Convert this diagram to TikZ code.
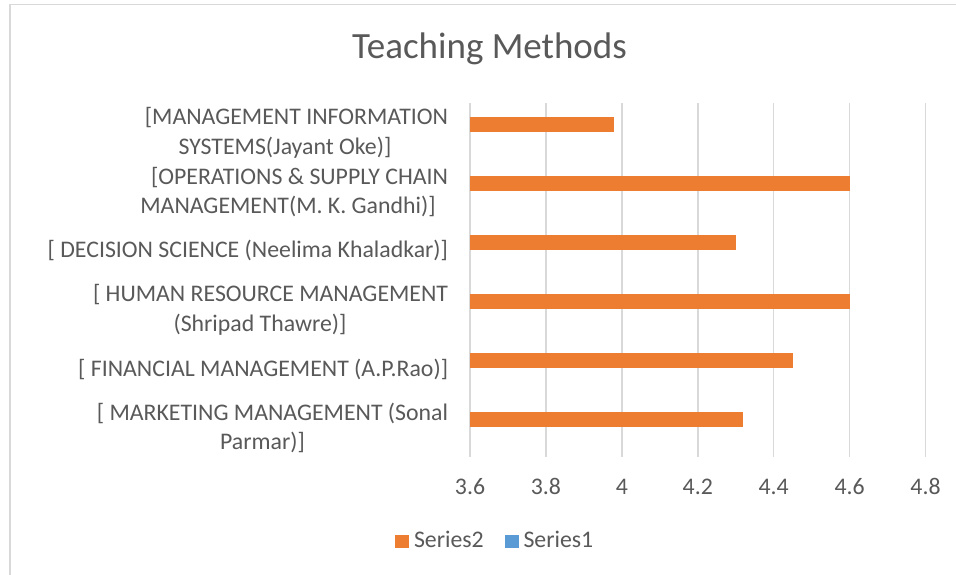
\documentclass[tikz,border=0pt]{standalone}
\usepackage{fontspec}
\setmainfont{Carlito}
\definecolor{txtgray}{HTML}{595959}
\definecolor{gridgray}{HTML}{D9D9D9}
\definecolor{barorange}{HTML}{ED7D31}
\definecolor{barblue}{HTML}{5B9BD5}
\tikzset{
  lbl/.style={inner sep=0pt, outer sep=0pt, text=txtgray, font=\fontsize{23.8}{28}\selectfont},
  ttl/.style={inner sep=0pt, outer sep=0pt, text=txtgray, font=\fontsize{37}{44}\selectfont},
  gridln/.style={draw=gridgray, line width=1.5pt},
  bar/.style={fill=barorange, draw=none},
}
\begin{document}
\begin{tikzpicture}[x=1pt,y=-1pt]
\useasboundingbox (0,0) rectangle (956,575);
\fill[white] (0,0) rectangle (956,575);
% chart border (cropped at right and bottom)
\draw[gridgray, line width=1.8pt] (10,575) -- (10,4.5) -- (956,4.5);
% title
\node[ttl, anchor=base] (title) at (489.5,59) {Teaching Methods};
% gridlines
\foreach \v/\n in {3.8/g1,4.0/g2,4.2/g3,4.4/g4,4.6/g5,4.8/g6}{
  \coordinate (\n t) at ({470+(\v-3.6)*379.6},103);
  \coordinate (\n b) at ({470+(\v-3.6)*379.6},457);
  \draw[gridln] (\n t) -- (\n b);
}
\coordinate (axt) at (470,103);
\coordinate (axb) at (470,457);
\draw[gridln] (axt) -- (axb);
% bars
\foreach \v/\c/\n in {3.98/124.5/b1,4.6/183.5/b2,4.3/242.5/b3,4.6/301.5/b4,4.45/360.5/b5,4.32/419.5/b6}{
  \path[bar] (470,\c-7.5) rectangle ({470+(\v-3.6)*379.6},\c+7.5);
}
% category labels
\node[lbl, anchor=base east] (l1a) at (448,125) {[MANAGEMENT INFORMATION};
\node[lbl, anchor=base] (l1b) at (285,154.3) {SYSTEMS(Jayant Oke)]};
\node[lbl, anchor=base east] (l2a) at (448,184.3) {[OPERATIONS \& SUPPLY CHAIN};
\node[lbl, anchor=base] (l2b) at (288,213.3) {MANAGEMENT(M. K. Gandhi)]};
\node[lbl, anchor=base east] (l3) at (448,257.3) {[ DECISION SCIENCE (Neelima Khaladkar)]};
\node[lbl, anchor=base east] (l4a) at (448,301.7) {[ HUMAN RESOURCE MANAGEMENT};
\node[lbl, anchor=base] (l4b) at (260,331.7) {(Shripad Thawre)]};
\node[lbl, anchor=base east] (l5) at (448,376) {[ FINANCIAL MANAGEMENT (A.P.Rao)]};
\node[lbl, anchor=base east] (l6a) at (448,420) {[ MARKETING MANAGEMENT (Sonal};
\node[lbl, anchor=base] (l6b) at (262.5,449.3) {Parmar)]};
% value axis tick labels
\foreach \v/\t/\n in {3.6/3.6/t0,3.8/3.8/t1,4.0/4/t2,4.2/4.2/t3,4.4/4.4/t4,4.6/4.6/t5,4.8/4.8/t6}{
  \node[lbl, anchor=base] (\n) at ({470+(\v-3.6)*379.6},494) {\t};
}
% legend
\fill[barorange] (395,535) rectangle (409,548);
\node[lbl, anchor=base west] (leg2) at (414,547.5) {Series2};
\fill[barblue] (505,535) rectangle (519,548);
\node[lbl, anchor=base west] (leg1) at (523.5,547.5) {Series1};
\end{tikzpicture}
\end{document}
